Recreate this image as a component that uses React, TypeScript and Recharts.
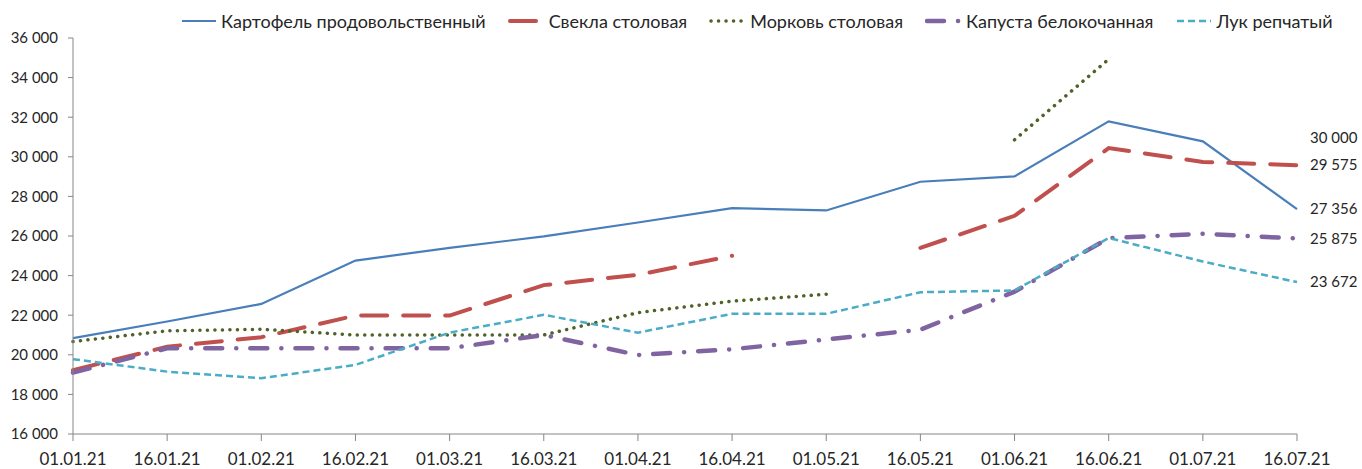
import React from 'react'
import { LineChart, Line, XAxis, YAxis, Legend, LabelList } from 'recharts'

// categories (dates) and series values
const dates = [
  '01.01.21', '16.01.21', '01.02.21', '16.02.21', '01.03.21', '16.03.21', '01.04.21',
  '16.04.21', '01.05.21', '16.05.21', '01.06.21', '16.06.21', '01.07.21', '16.07.21',
]
const potato = [20840, 21680, 22570, 24760, 25400, 25980, 26680, 27410, 27290, 28740, 29010, 31790, 30780, 27356]
const beet = [19220, 20410, 20890, 21980, 21980, 23520, 24040, 25000, null, 25400, 27020, 30440, 29740, 29575]
const carrot = [20670, 21210, 21290, 21000, 21000, 21000, 22130, 22710, 23060, null, 30860, 34930, null, 30000]
const cabbage = [19100, 20330, 20330, 20330, 20330, 21000, 19990, 20280, 20770, 21270, 23190, 25890, 26110, 25875]
const onion = [19780, 19150, 18820, 19490, 21120, 22020, 21120, 22070, 22070, 23160, 23250, 25900, 24710, 23672]
const yTicks = [16000, 18000, 20000, 22000, 24000, 26000, 28000, 30000, 32000, 34000, 36000]

const data = dates.map((date, i) => ({
  date,
  potato: potato[i],
  beet: beet[i],
  carrot: carrot[i],
  cabbage: cabbage[i],
  onion: onion[i],
}))

const FONT = 'Lato, "DejaVu Sans", sans-serif'
const TEXT = '#262626'
const AXIS = '#868686'

const fmt = (v: number) => String(Math.round(v)).replace(/\B(?=(\d{3})+(?!\d))/g, ' ')

const series = [
  { key: 'potato', name: 'Картофель продовольственный', color: '#4A7EBB', width: 2.2, dash: undefined, cap: 'butt', shift: 0 },
  { key: 'beet', name: 'Свекла столовая', color: '#C0504D', width: 4, dash: '26 16', cap: 'round', shift: 0 },
  { key: 'carrot', name: 'Морковь столовая', color: '#4F6228', width: 3.5, dash: '0.1 7.4', cap: 'round', shift: -19 },
  { key: 'cabbage', name: 'Капуста белокочанная', color: '#8064A2', width: 4.5, dash: '17 14 0.1 14', cap: 'round', shift: 0 },
  { key: 'onion', name: 'Лук репчатый', color: '#4BACC6', width: 2.5, dash: '7 4', cap: 'butt', shift: 0 },
]

const last = dates.length - 1

const endLabel = (shift: number) => (props: any) => {
  const { x, y, value, index } = props
  if (index !== last || value == null) return null
  return (
    <text x={x + 13} y={y + shift} dy="0.35em" fill={TEXT} fontSize={15} fontFamily={FONT}>
      {fmt(value)}
    </text>
  )
}

function LegendBox() {
  return (
    <div style={{ display: 'flex', alignItems: 'center', fontFamily: FONT, fontSize: 18, color: TEXT, whiteSpace: 'nowrap' }}>
      {series.map((s) => (
        <div key={s.key} style={{ display: 'flex', alignItems: 'center', marginRight: 22 }}>
          <svg width={38} height={10} style={{ marginRight: 3 }}>
            <line
              x1={2}
              y1={5}
              x2={36}
              y2={5}
              stroke={s.color}
              strokeWidth={s.width}
              strokeDasharray={s.dash}
              strokeLinecap={s.cap as any}
            />
          </svg>
          <span>{s.name}</span>
        </div>
      ))}
    </div>
  )
}

export default function App() {
  return (
    <div style={{ position: 'absolute', left: 0, top: 0, width: 1362, height: 469, background: '#fff' }}>
      <LineChart width={1362} height={469} data={data} margin={{ top: 38, right: 65, left: 0, bottom: 0 }}>
        <XAxis
          dataKey="date"
          height={35}
          stroke={AXIS}
          tickSize={7}
          tickMargin={12}
          interval={0}
          tick={{ fill: TEXT, fontSize: 17, fontFamily: FONT }}
        />
        <YAxis
          width={73}
          domain={[16000, 36000]}
          ticks={yTicks}
          stroke={AXIS}
          tickSize={5}
          tickMargin={10}
          tickFormatter={fmt}
          tick={{ fill: TEXT, fontSize: 15, fontFamily: FONT }}
        />
        <Legend
          layout="horizontal"
          verticalAlign="middle"
          align="center"
          wrapperStyle={{ top: 10, left: 180, width: 1180 }}
          content={() => <LegendBox />}
        />
        {series.map((s) => (
          <Line
            key={s.key}
            type="linear"
            dataKey={s.key}
            name={s.name}
            stroke={s.color}
            strokeWidth={s.width}
            strokeDasharray={s.dash}
            strokeLinecap={s.cap as any}
            dot={false}
            activeDot={false}
            connectNulls={false}
            isAnimationActive={false}
          >
            <LabelList dataKey={s.key} content={endLabel(s.shift)} />
          </Line>
        ))}
      </LineChart>
    </div>
  )
}
